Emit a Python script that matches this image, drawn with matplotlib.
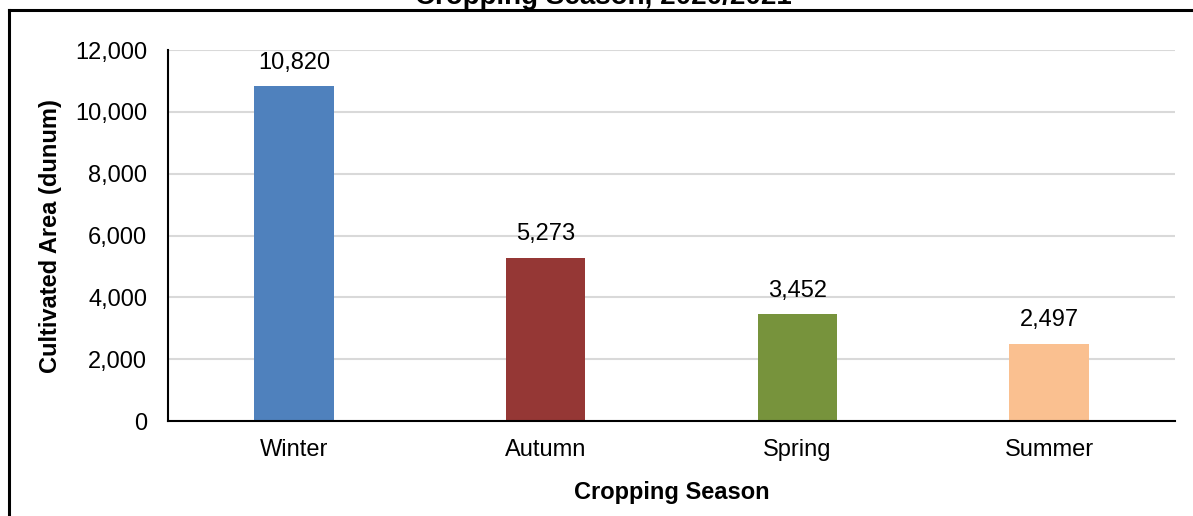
import matplotlib
matplotlib.use("Agg")
import matplotlib.pyplot as plt
from matplotlib.lines import Line2D

plt.rcParams['font.family'] = ['Liberation Sans', 'DejaVu Sans']

# ── Data ──────────────────────────────────────────────────────────────────────
seasons = ["Winter", "Autumn", "Spring", "Summer"]
area    = [10820, 5273, 3452, 2497]
colors  = ["#4F81BD", "#953735", "#77933C", "#FAC090"]
yticks  = [0, 2000, 4000, 6000, 8000, 10000, 12000]

W, H = 1193, 516
fig = plt.figure(figsize=(W / 100, H / 100), dpi=100, facecolor="white")
ax = fig.add_axes([168 / W, 1 - 421 / H, (1175 - 168) / W, (421 - 50) / H])

x = range(len(seasons))
bars = ax.bar(x, area, width=0.315, color=colors, zorder=3)
for xi, v in zip(x, area):
    ax.annotate(f"{v:,}", xy=(xi, v), xytext=(0, 9), textcoords="offset points",
                ha="center", va="bottom", fontsize=17, color="#000000")

ax.set_xlim(-0.5, len(seasons) - 0.5)
ax.set_ylim(0, 12000)
ax.set_yticks(yticks)
ax.set_yticklabels([f"{t:,}" for t in yticks])
ax.set_xticks(list(x))
ax.set_xticklabels(seasons)
ax.tick_params(axis="both", length=0, labelsize=17, colors="#000000")
ax.tick_params(axis="y", pad=15)
ax.tick_params(axis="x", pad=13)
ax.yaxis.grid(True, color="#D9D9D9", lw=1.5, zorder=0)
ax.set_axisbelow(True)

for side in ("top", "right"):
    ax.spines[side].set_visible(False)
for side in ("left", "bottom"):
    ax.spines[side].set_color("#000000")
    ax.spines[side].set_linewidth(1.5)
ax.spines["bottom"].set_zorder(4)

ax.set_xlabel("Cropping Season", fontsize=17, fontweight="bold", labelpad=14)
fig.text(51 / W, 1 - 236 / H, "Cultivated Area (dunum)", rotation=90,
         fontsize=17, fontweight="bold", ha="center", va="center")

# outer frame (top and left edges visible)
fig.add_artist(Line2D([9 / W, 1.0], [1 - 10 / H, 1 - 10 / H], color="black", lw=2.2,
                      transform=fig.transFigure))
fig.add_artist(Line2D([9 / W, 9 / W], [0, 1 - 10 / H], color="black", lw=2.2,
                      transform=fig.transFigure))

# title, cut off at the top edge as in the source
fig.text(603 / W, 1 - 4 / H, "Cropping Season, 2020/2021", fontsize=20,
         fontweight="bold", ha="center", va="baseline")

fig.savefig("out.png", dpi=100, facecolor="white")
